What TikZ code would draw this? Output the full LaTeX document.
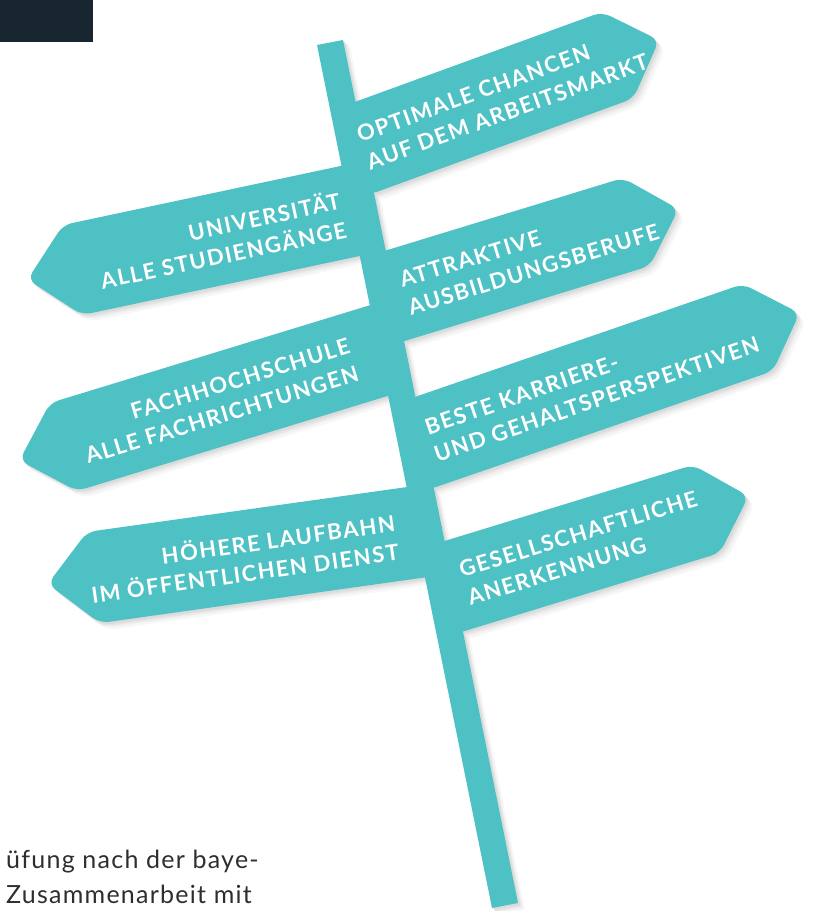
\documentclass[tikz,border=0pt]{standalone}
\usepackage{fontspec}
\setmainfont{Lato}
\newfontfamily\signfont[LetterSpace=7]{Lato}
\newfontfamily\bodyfont[LetterSpace=5]{Lato}
\definecolor{signteal}{HTML}{4EC1C5}
\definecolor{headerdark}{HTML}{18262F}
\definecolor{bodygray}{HTML}{2E2E2E}

\tikzset{
  board/.style={fill=signteal},
  signtext/.style={text=white, inner sep=0pt, transform shape,
    font=\signfont\bfseries\fontsize{22}{29}\selectfont},
}

% arm pointing right: top corner at the tip end, angle, length, style
\newcommand{\rightsign}[4]{%
  \begin{scope}[shift={#1}, rotate=#2]
    \path[#4, rounded corners=9pt] (-#3,0) -- (0,0) -- (44,46) -- (0,92) -- (-#3,92) -- cycle;
  \end{scope}}
% arm pointing left
\newcommand{\leftsign}[4]{%
  \begin{scope}[shift={#1}, rotate=#2]
    \path[#4, rounded corners=9pt] (#3,0) -- (0,0) -- (-46,46) -- (0,92) -- (#3,92) -- cycle;
  \end{scope}}
% pole and all arms
\newcommand{\signpost}[1]{%
  \path[#1] (317,45) -- (343,40) -- (518,903) -- (492,908) -- cycle;
  \rightsign{(602,12)}{20}{283}{#1}
  \leftsign{(63,225)}{12}{297}{#1}
  \rightsign{(623,178)}{17}{266}{#1}
  \leftsign{(50,403)}{17}{343}{#1}
  \rightsign{(743,284)}{19}{366}{#1}
  \leftsign{(87,532)}{8}{339}{#1}
  \rightsign{(693,465)}{17}{278}{#1}}

\begin{document}
\begin{tikzpicture}[x=1pt, y=-1pt]
  \useasboundingbox (0,0) rectangle (817,911);
  \fill[headerdark] (0,0) rectangle (93,42);

  % soft shadow
  \foreach \d/\g in {7/3, 5/6, 3.5/10, 2/14} {
    \begin{scope}[shift={(\d,\d)}]
      \signpost{fill=black!\g}
    \end{scope}
  }
  \signpost{board}

  % labels
  \begin{scope}[shift={(602,12)}, rotate=20]
    \node[signtext, anchor=west, align=left] (chancen) at (-272,47) {OPTIMALE CHANCEN\\AUF DEM ARBEITSMARKT};
  \end{scope}
  \begin{scope}[shift={(63,225)}, rotate=12]
    \node[signtext, anchor=east, align=right] (uni) at (276,47) {UNIVERSITÄT\\ALLE STUDIENGÄNGE};
  \end{scope}
  \begin{scope}[shift={(623,178)}, rotate=17]
    \node[signtext, anchor=west, align=left] (ausbildung) at (-243,47) {ATTRAKTIVE\\AUSBILDUNGSBERUFE};
  \end{scope}
  \begin{scope}[shift={(50,403)}, rotate=17]
    \node[signtext, anchor=east, align=right] (fh) at (303,47) {FACHHOCHSCHULE\\ALLE FACHRICHTUNGEN};
  \end{scope}
  \begin{scope}[shift={(743,284)}, rotate=19]
    \node[signtext, anchor=west, align=left] (karriere) at (-347,47) {BESTE KARRIERE-\\UND GEHALTSPERSPEKTIVEN};
  \end{scope}
  \begin{scope}[shift={(87,532)}, rotate=8]
    \node[signtext, anchor=east, align=right] (laufbahn) at (306,47) {HÖHERE LAUFBAHN\\IM ÖFFENTLICHEN DIENST};
  \end{scope}
  \begin{scope}[shift={(693,465)}, rotate=17]
    \node[signtext, anchor=west, align=left] (anerkennung) at (-254,47) {GESELLSCHAFTLICHE\\ANERKENNUNG};
  \end{scope}

  \node[font=\bodyfont\fontsize{25}{35}\selectfont, text=bodygray, anchor=north west,
    align=left, inner sep=0pt] (bodytext) at (6,850) {üfung nach der baye-\\Zusammenarbeit mit};
\end{tikzpicture}
\end{document}
